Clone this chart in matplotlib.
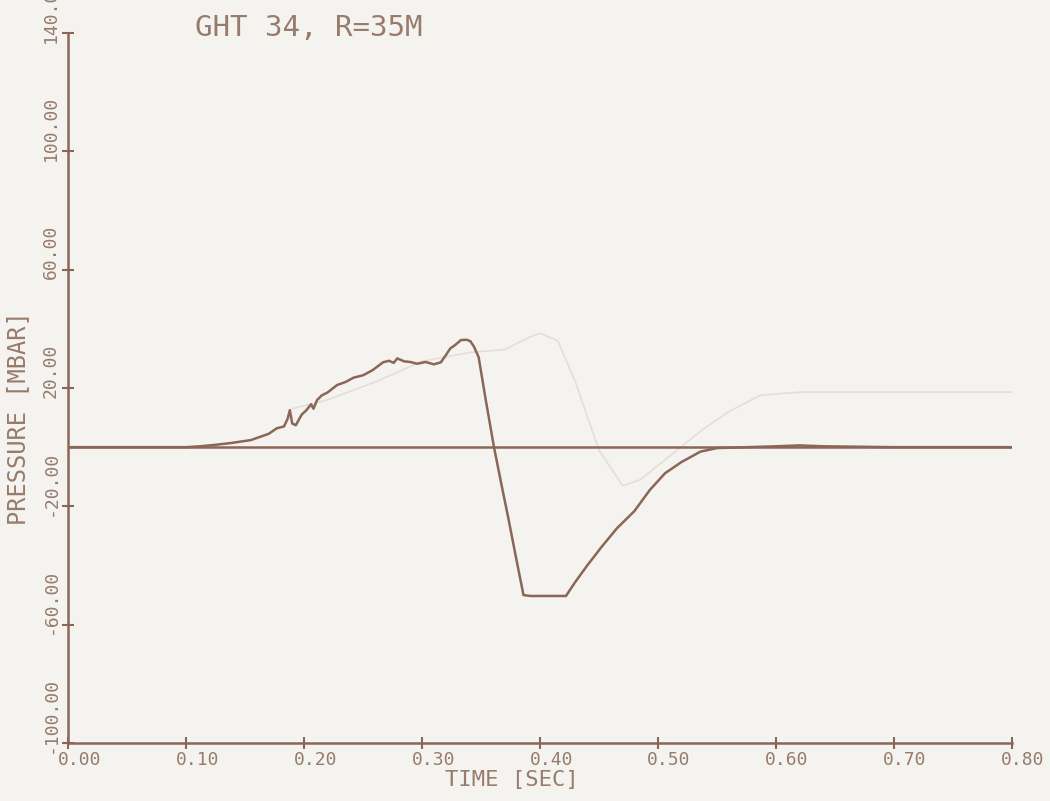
import matplotlib
matplotlib.use("Agg")
import matplotlib.pyplot as plt
from matplotlib.transforms import ScaledTranslation

# pressure trace, GHT 34 at R=35 m  (time in s, pressure in mbar)
time_s = [0.000, 0.100, 0.112, 0.125, 0.138, 0.155, 0.170, 0.177, 0.183, 0.186,
          0.188, 0.190, 0.193, 0.198, 0.202, 0.206, 0.208, 0.211, 0.215, 0.220,
          0.228, 0.235, 0.242, 0.250, 0.258, 0.267, 0.272, 0.276, 0.279, 0.285,
          0.290, 0.296, 0.303, 0.310, 0.316, 0.320, 0.324, 0.328, 0.333, 0.338,
          0.341, 0.344, 0.348, 0.354, 0.361, 0.367, 0.373, 0.380, 0.386, 0.392,
          0.422, 0.430, 0.440, 0.452, 0.465, 0.480, 0.493, 0.506, 0.520, 0.536,
          0.550, 0.600, 0.620, 0.640, 0.700, 0.800]
pressure = [0.0, 0.0, 0.3, 0.8, 1.4, 2.4, 4.5, 6.4, 7.0, 9.5,
            12.5, 8.0, 7.4, 11.0, 12.5, 14.5, 13.0, 15.9, 17.5, 18.5,
            21.0, 22.0, 23.5, 24.3, 26.0, 28.7, 29.2, 28.5, 30.0, 29.0,
            28.8, 28.2, 28.8, 28.0, 28.7, 31.0, 33.4, 34.5, 36.2, 36.3,
            35.8, 34.0, 30.4, 16.0, 0.0, -12.0, -23.7, -38.0, -50.0, -50.3,
            -50.3, -45.5, -40.0, -33.8, -27.5, -21.6, -14.5, -8.8, -5.0, -1.5,
            -0.3, 0.3, 0.6, 0.3, 0.0, 0.0]

# faint trace showing through from the back of the sheet
ghost_t = [0.190, 0.220, 0.260, 0.300, 0.340, 0.370, 0.390, 0.400, 0.415,
           0.430, 0.450, 0.470, 0.485, 0.510, 0.537, 0.560, 0.587, 0.620, 0.800]
ghost_p = [13.0, 16.0, 22.0, 29.0, 32.0, 33.0, 37.0, 38.5, 36.0,
           22.0, -1.0, -13.0, -11.0, -3.0, 5.7, 12.0, 17.6, 18.6, 18.6]

x_ticks = [0.0, 0.1, 0.2, 0.3, 0.4, 0.5, 0.6, 0.7, 0.8]
x_labels = ["0.00", "0.10", "0.20", "0.30", "0.40", "0.50", "0.60", "0.70", "0.80"]
y_ticks = [-100, -60, -20, 20, 60, 100, 140]
y_labels = ["-100.00", "-60.00", "-20.00", "20.00", "60.00", "100.00", "140.00"]

ink = "#8a6656"
text_ink = "#977c6c"
paper = "#f5f3f0"
mono = ["DejaVu Sans Mono"]

fig = plt.figure(figsize=(10.5, 8.01), dpi=100, facecolor=paper)
ax = fig.add_axes([0.0648, 0.0724, 0.899, 0.8864])
ax.set_facecolor(paper)

ax.plot(ghost_t, ghost_p, color="#e6ddd7", lw=1.2, zorder=1)
ax.axhline(0, color=ink, lw=1.8, zorder=2)
ax.plot(time_s, pressure, color=ink, lw=1.8, zorder=3)

ax.set_xlim(0, 0.8)
ax.set_ylim(-100, 140)
for s in ("top", "right"):
    ax.spines[s].set_visible(False)
for s in ("left", "bottom"):
    ax.spines[s].set_color(ink)
    ax.spines[s].set_linewidth(1.8)

ax.set_xticks(x_ticks)
ax.set_xticklabels(x_labels, family=mono, fontsize=13, color=text_ink)
ax.set_yticks(y_ticks)
ax.set_yticklabels(y_labels, family=mono, fontsize=13, color=text_ink,
                   rotation=90, va="bottom")
ax.tick_params(direction="inout", length=8, width=1.5, color=ink)
ax.tick_params(axis="x", pad=2)
ax.tick_params(axis="y", pad=2)

for lab in ax.get_xticklabels():
    lab.set_transform(lab.get_transform() + ScaledTranslation(8 / 72, 0, fig.dpi_scale_trans))
for lab in ax.get_yticklabels():
    lab.set_transform(lab.get_transform() + ScaledTranslation(0, -7 / 72, fig.dpi_scale_trans))

ax.set_xlabel("TIME [SEC]", family=mono, fontsize=16, color=text_ink)
ax.xaxis.set_label_coords(0.470, -0.038)
ax.set_ylabel("PRESSURE [MBAR]", family=mono, fontsize=17, color=text_ink)
ax.yaxis.set_label_coords(-0.040, 0.458)

fig.text(195 / 1050, 1 - 28 / 801, "GHT 34, R=35M", family=mono, fontsize=21,
         color=text_ink, va="center", ha="left")

fig.savefig("out.png", dpi=100, facecolor=paper)
